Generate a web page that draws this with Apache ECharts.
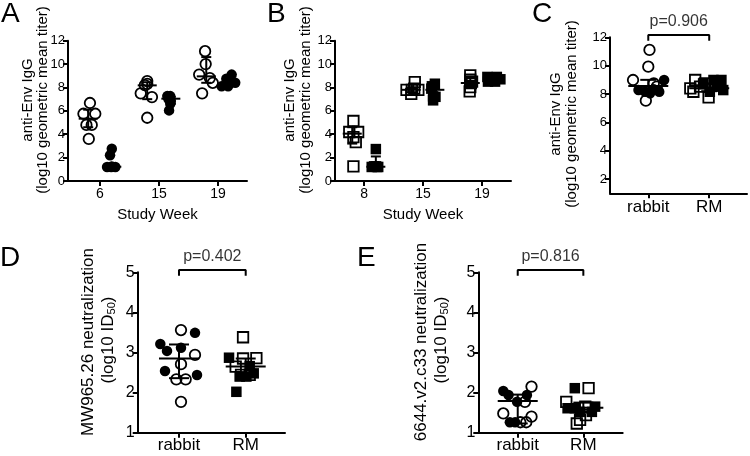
<!DOCTYPE html>
<html><head><meta charset="utf-8">
<script src="https://cdn.jsdelivr.net/npm/echarts@6/dist/echarts.min.js"></script>
<style>html,body{margin:0;padding:0;background:#fff}#c{width:750px;height:456px}</style>
</head><body><div id="c"></div>
<script>
// ---------------- DATA ----------------
const weeksA = ['6', '15', '19'];
const weeksB = ['8', '15', '19'];
const groups = ['rabbit', 'RM'];
const yTicksC = [2, 4, 6, 8, 10, 12];
const pValues = ['p=0.906', 'p=0.402', 'p=0.816'];

// Panel A (open = left, filled = right; x = category index + jitter)
const A_openX = [0.83,0.72,0.92,0.77,0.86,0.81, 1.80,1.80,1.69,1.88,1.80,1.76, 2.78,2.79,2.68,2.86,2.91,2.73];
const A_openY = [6.67,5.75,5.75,4.8,4.8,3.6, 8.55,8.3,7.5,7.18,5.41,8.2, 11.1,10.0,9.1,8.8,8.4,7.5];
const A_fillX = [1.20,1.17,1.12,1.19,1.26,1.20, 2.19,2.14,2.19,2.17,2.16,2.20, 3.23,3.14,3.29,3.06,3.17,3.20];
const A_fillY = [2.76,2.2,1.2,1.2,1.2,1.25, 7.26,7.26,6.6,6.04,7.0,6.85, 9.1,8.75,8.4,8.1,8.1,8.6];
const A_openMid = [5.33, 8.18, 8.95], A_openLo = [4.6, 7.0, 8.4], A_openHi = [6.1, 8.45, 10.6];
const A_fillMid = [1.22, 7.04, 8.4],  A_fillLo = [1.22, 6.6, 8.2], A_fillHi = [1.22, 7.2, 8.7];

// Panel B
const B_openX = [0.82,0.75,0.90,0.82,0.86,0.82, 1.86,1.72,1.81,1.92,1.80,1.85, 2.80,2.80,2.81,2.80,2.79,2.83];
const B_openY = [5.13,4.19,4.19,3.76,3.33,1.25, 8.46,7.8,7.8,7.8,7.46,7.9, 9.03,8.66,8.38,8.03,7.66,8.5];
const B_fillX = [1.20,1.20,1.13,1.24,1.17,1.22, 2.20,2.14,2.17,2.17,2.21,2.15, 3.09,3.25,3.31,3.10,3.22,3.17];
const B_fillY = [2.73,1.25,1.2,1.2,1.25,1.2, 8.32,7.9,7.24,6.9,7.2,8.1, 8.9,8.9,8.7,8.5,8.5,8.75];
const B_openMid = [4.05, 7.8, 8.38], B_openLo = [3.2, 7.6, 8.0], B_openHi = [4.6, 8.0, 8.8];
const B_fillMid = [1.22, 7.8, 8.7],  B_fillLo = [1.22, 7.2, 8.5], B_fillHi = [2.1, 8.2, 8.9];

// Panel C
const C_rabOpenX = [1.02,1.00,0.75,1.09,0.96,1.14], C_rabOpenY = [11.11,9.93,8.99,8.75,7.53,8.52];
const C_rabFillX = [1.26,0.84,0.95,1.18,1.09,1.03], C_rabFillY = [8.99,8.28,8.16,8.16,8.33,8.05];
const C_rmOpenX  = [1.77,1.69,1.85,1.99,1.74,1.93], C_rmOpenY  = [8.99,8.4,8.52,7.76,8.16,8.75];
const C_rmFillX  = [2.07,2.20,2.23,1.90,2.12,2.01], C_rmFillY  = [8.99,8.99,8.28,8.75,8.52,8.16];
const C_mid = [8.56, 8.4], C_lo = [8.2, 8.2], C_hi = [9.0, 8.75];

// Panel D
const D_rabFillX = [0.72,0.82,1.03,1.24,0.79,1.27], D_rabFillY = [3.21,3.04,3.12,3.49,2.54,2.44];
const D_rabOpenX = [1.03,1.24,1.03,0.96,1.10,1.03], D_rabOpenY = [3.56,2.94,2.71,2.33,2.33,1.77];
const D_rmOpenX  = [1.96,2.16,1.96,1.85,2.06,1.93], D_rmOpenY  = [3.38,2.86,2.85,2.65,2.44,2.44];
const D_rmFillX  = [1.75,2.06,2.12,1.91,2.01,1.86], D_rmFillY  = [2.87,2.66,2.48,2.40,2.40,2.02];
const D_mid = [2.85, 2.65], D_lo = [2.36, 2.45], D_hi = [3.2, 2.85];

// Panel E
const E_rabFillX = [0.78,0.86,1.14,0.99,0.88,0.96], E_rabFillY = [2.04,1.94,1.94,1.77,1.26,1.26];
const E_rabOpenX = [1.21,1.11,0.78,1.21,1.04,1.13], E_rabOpenY = [2.15,1.77,1.48,1.40,1.26,1.26];
const E_rmFillX  = [1.87,1.76,1.87,2.18,2.13,1.95], E_rmFillY  = [2.11,1.61,1.61,1.65,1.52,1.52];
const E_rmOpenX  = [2.08,1.74,2.03,1.95,2.04,1.90], E_rmOpenY  = [2.11,1.77,1.65,1.32,1.44,1.23];
const E_mid = [1.79, 1.62], E_lo = [1.23, 1.5], E_hi = [1.95, 1.75];

// ---------------- CHART ----------------
const FONT = '"Liberation Sans", Arial, Helvetica, sans-serif';
const chart = echarts.init(document.getElementById('c'));

function xAxisCfg(grid, min, max, labels, fontSize, margin, name, nameGap) {
  const ticks = labels.map((_, i) => i + 1);
  const a = {
    gridIndex: grid, type: 'value', min, max,
    axisLine: {show: true, onZero: false, lineStyle: {color: '#000', width: 2}},
    axisTick: {show: true, length: 5, customValues: ticks, lineStyle: {color: '#000', width: 2}},
    axisLabel: {customValues: ticks, color: '#000', fontSize, fontFamily: FONT, margin,
      formatter: v => labels[Math.round(v) - 1] || ''},
    splitLine: {show: false}
  };
  if (name) {
    a.name = name; a.nameLocation = 'middle'; a.nameGap = nameGap;
    a.nameTextStyle = {color: '#000', fontSize: 15, fontFamily: FONT};
  }
  return a;
}
function yAxisCfg(grid, min, max, interval, fontSize, custom) {
  const a = {
    gridIndex: grid, type: 'value', min, max,
    axisLine: {show: true, onZero: false, lineStyle: {color: '#000', width: 2}},
    axisTick: {show: true, length: 5, lineStyle: {color: '#000', width: 2}},
    axisLabel: {color: '#000', fontSize, fontFamily: FONT, margin: 3},
    splitLine: {show: false}
  };
  if (interval) a.interval = interval;
  if (custom) { a.axisTick.customValues = custom; a.axisLabel.customValues = custom; }
  return a;
}
function pts(ax, xs, ys, symbol, filled, size) {
  return {
    type: 'scatter', xAxisIndex: ax, yAxisIndex: ax, silent: true, animation: false, z: 2,
    data: xs.map((x, i) => [x, ys[i]]), symbol, symbolSize: size,
    itemStyle: filled ? {color: '#000', borderWidth: 0, opacity: 1}
                      : {color: 'rgba(0,0,0,0)', borderColor: '#000', borderWidth: 1.8, opacity: 1}
  };
}
function summary(ax, xs, mid, lo, hi, hw, cap) {
  return {
    type: 'custom', xAxisIndex: ax, yAxisIndex: ax, silent: true, animation: false, z: 5,
    encode: {x: 0, y: 1},
    data: xs.map((x, i) => [x, mid[i], lo[i], hi[i]]),
    renderItem: (params, api) => {
      const x = api.value(0);
      const pm = api.coord([x, api.value(1)]);
      const pl = api.coord([x, api.value(2)]);
      const ph = api.coord([x, api.value(3)]);
      const st = {stroke: '#000', lineWidth: 2};
      const ch = [{type: 'line', shape: {x1: pm[0] - hw, y1: pm[1], x2: pm[0] + hw, y2: pm[1]}, style: st}];
      if (Math.abs(pl[1] - ph[1]) > 0.5) {
        ch.push({type: 'line', shape: {x1: pm[0], y1: ph[1], x2: pm[0], y2: pl[1]}, style: st});
        ch.push({type: 'line', shape: {x1: pm[0] - cap, y1: ph[1], x2: pm[0] + cap, y2: ph[1]}, style: st});
        ch.push({type: 'line', shape: {x1: pm[0] - cap, y1: pl[1], x2: pm[0] + cap, y2: pl[1]}, style: st});
      }
      return {type: 'group', children: ch};
    }
  };
}
function bracket(ax, yMin, yMax, text) {
  const r = yMax - yMin;
  const top = yMax + 0.0145 * r, drop = yMax - 0.022 * r, ty = yMax + 0.098 * r;
  return [
    {type: 'line', xAxisIndex: ax, yAxisIndex: ax, clip: false, silent: true, animation: false,
     symbol: 'none', lineStyle: {color: '#000', width: 2},
     data: [[1, drop], [1, top], [2, top], [2, drop]]},
    {type: 'scatter', xAxisIndex: ax, yAxisIndex: ax, clip: false, silent: true, animation: false,
     symbolSize: 1, itemStyle: {color: 'rgba(0,0,0,0)'},
     label: {show: true, position: 'inside', formatter: text, color: '#000', fontSize: 16, fontFamily: FONT},
     data: [[1.5, ty]]}
  ];
}
const idx3 = [1, 2, 3];
const L = -0.2, R = 0.2;
const S = 10.5;

const series = [
  pts(0, A_openX, A_openY, 'circle', false, S),
  pts(0, A_fillX, A_fillY, 'circle', true, S),
  summary(0, idx3.map(i => i + L), A_openMid, A_openLo, A_openHi, 9.5, 5),
  summary(0, idx3.map(i => i + R), A_fillMid, A_fillLo, A_fillHi, 9.5, 5),

  pts(1, B_openX, B_openY, 'rect', false, S),
  pts(1, B_fillX, B_fillY, 'rect', true, S),
  summary(1, idx3.map(i => i + L), B_openMid, B_openLo, B_openHi, 9.5, 5),
  summary(1, idx3.map(i => i + R), B_fillMid, B_fillLo, B_fillHi, 9.5, 5),

  pts(2, C_rabOpenX, C_rabOpenY, 'circle', false, S),
  pts(2, C_rabFillX, C_rabFillY, 'circle', true, S),
  pts(2, C_rmOpenX, C_rmOpenY, 'rect', false, S),
  pts(2, C_rmFillX, C_rmFillY, 'rect', true, S),
  summary(2, [1, 2], C_mid, C_lo, C_hi, 20, 8),
  ...bracket(2, 1, 12, pValues[0]),

  pts(3, D_rabFillX, D_rabFillY, 'circle', true, S),
  pts(3, D_rabOpenX, D_rabOpenY, 'circle', false, S),
  pts(3, D_rmOpenX, D_rmOpenY, 'rect', false, S),
  pts(3, D_rmFillX, D_rmFillY, 'rect', true, S),
  summary(3, [1, 2], D_mid, D_lo, D_hi, 20, 10),
  ...bracket(3, 1, 5, pValues[1]),

  pts(4, E_rabFillX, E_rabFillY, 'circle', true, S),
  pts(4, E_rabOpenX, E_rabOpenY, 'circle', false, S),
  pts(4, E_rmOpenX, E_rmOpenY, 'rect', false, S),
  pts(4, E_rmFillX, E_rmFillY, 'rect', true, S),
  summary(4, [1, 2], E_mid, E_lo, E_hi, 20, 10),
  ...bracket(4, 1, 5, pValues[2])
];

function vtitle(x, y, text, size, rich) {
  const st = {text, fill: '#000', fontSize: size, fontFamily: FONT, align: 'center', verticalAlign: 'middle'};
  if (rich) st.rich = rich;
  return {type: 'text', x, y, rotation: Math.PI / 2, style: st, silent: true};
}
function letter(x, y, t) {
  return {type: 'text', x, y, style: {text: t, fill: '#000', fontSize: 28, fontFamily: FONT, align: 'left', verticalAlign: 'middle'}, silent: true};
}
const subRich = {s: {fontSize: 11, fontFamily: FONT, fill: '#000', verticalAlign: 'bottom', padding: [8, 0, 0, 0]}};

chart.setOption({
  animation: false,
  grid: [
    {left: 68, top: 40.7, width: 179, height: 140.3, outerBoundsMode: 'none'},
    {left: 335, top: 40.7, width: 176, height: 140.3, outerBoundsMode: 'none'},
    {left: 610, top: 37.3, width: 137, height: 156, outerBoundsMode: 'none'},
    {left: 137.7, top: 272.3, width: 147.3, height: 160.4, outerBoundsMode: 'none'},
    {left: 478.3, top: 272.3, width: 144.4, height: 160.4, outerBoundsMode: 'none'}
  ],
  xAxis: [
    xAxisCfg(0, 0.458, 3.49, weeksA, 14, 6, 'Study Week', 26),
    xAxisCfg(1, 0.508, 3.49, weeksB, 14, 6, 'Study Week', 26),
    xAxisCfg(2, 0.372, 2.62, groups, 17, 6),
    xAxisCfg(3, 0.381, 2.589, groups, 17, 4),
    xAxisCfg(4, 0.399, 2.60, groups, 17, 4)
  ],
  yAxis: [
    yAxisCfg(0, 0, 12, 2, 13),
    yAxisCfg(1, 0, 12, 2, 13),
    yAxisCfg(2, 1, 12, null, 13, yTicksC),
    yAxisCfg(3, 1, 5, 1, 16),
    yAxisCfg(4, 1, 5, 1, 16)
  ],
  graphic: [
    letter(1, 14, 'A'), letter(267, 14, 'B'), letter(532, 14, 'C'),
    letter(0, 258, 'D'), letter(357, 258, 'E'),
    vtitle(28, 100, 'anti-Env IgG', 15), vtitle(43, 100, '(log10 geometric mean titer)', 15),
    vtitle(290, 100, 'anti-Env IgG', 15), vtitle(306, 100, '(log10 geometric mean titer)', 15),
    vtitle(556, 114, 'anti-Env IgG', 15), vtitle(572, 114, '(log10 geometric mean titer)', 15),
    vtitle(88, 342, 'MW965.26 neutralization', 17), vtitle(108, 340, '(log10 ID{s|50})', 17, subRich),
    vtitle(421, 342, '6644.v2.c33 neutralization', 17), vtitle(441, 340, '(log10 ID{s|50})', 17, subRich)
  ],
  series
});
</script></body></html>
